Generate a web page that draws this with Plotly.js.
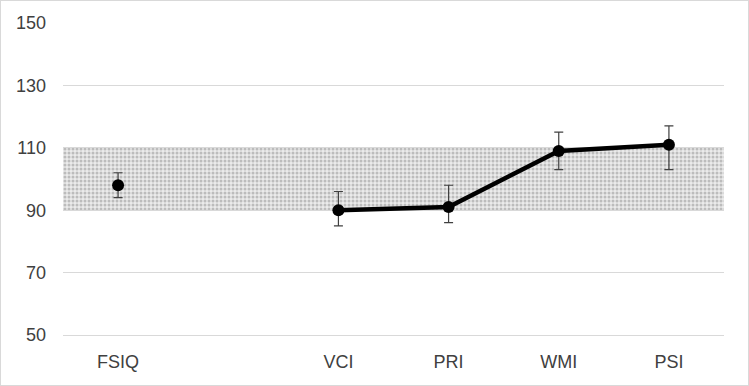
<!DOCTYPE html>
<html>
<head>
<meta charset="utf-8">
<script src="https://cdn.plot.ly/plotly-3.0.1.min.js"></script>
<style>
html,body{margin:0;padding:0;background:#fff;}
#wrap{position:relative;width:749px;height:386px;}
#chart{width:749px;height:386px;}
#frame{position:absolute;left:0;top:0;width:747px;height:384px;border:1px solid #d9d9d9;pointer-events:none;}
</style>
</head>
<body>
<div id="wrap"><div id="chart"></div><div id="frame"></div></div>
<script>
// Data
const categories = ['FSIQ', ' ', 'VCI', 'PRI', 'WMI', 'PSI'];
const scores = [98, null, 90, 91, 109, 111];
const upperCI = [102, null, 96, 98, 115, 117];
const lowerCI = [94, null, 85, 86, 103, 103];
const bandLow = 90;
const bandHigh = 110;
const yTicks = [50, 70, 90, 110, 130, 150];

const errPlus = scores.map((v, i) => v === null ? null : upperCI[i] - v);
const errMinus = scores.map((v, i) => v === null ? null : v - lowerCI[i]);

const band = {
  type: 'bar',
  x: categories,
  y: categories.map(() => bandHigh - bandLow),
  base: categories.map(() => bandLow),
  width: 1,
  marker: {
    color: '#e6e6e6',
    line: {width: 0},
    pattern: {shape: '.', bgcolor: '#ebebeb', fgcolor: '#bcbcbc', size: 4, solidity: 0.45, fillmode: 'replace'}
  },
  hoverinfo: 'skip',
  showlegend: false
};

const line = {
  type: 'scatter',
  mode: 'lines+markers',
  x: categories,
  y: scores,
  connectgaps: false,
  line: {color: '#000000', width: 4.5},
  marker: {color: '#000000', size: 12, symbol: 'circle'},
  error_y: {
    type: 'data', symmetric: false,
    array: errPlus, arrayminus: errMinus,
    color: '#404040', thickness: 1.2, width: 4.5
  },
  showlegend: false
};

const tf = {family: '"Liberation Sans Narrow", "Liberation Sans", Arial, sans-serif', size: 18, color: '#404040'};

const layout = {
  width: 749, height: 386,
  margin: {l: 63, r: 25, t: 23, b: 51},
  paper_bgcolor: '#ffffff', plot_bgcolor: '#ffffff',
  bargap: 0,
  font: tf,
  xaxis: {
    type: 'category',
    categoryorder: 'array', categoryarray: categories,
    range: [-0.5, 5.5],
    showgrid: false, zeroline: false,
    showline: true, linecolor: '#d9d9d9', linewidth: 1,
    ticks: '', ticklabelstandoff: 10,
    tickfont: tf
  },
  yaxis: {
    range: [50, 150],
    tickvals: yTicks,
    showgrid: true, gridcolor: '#d9d9d9', gridwidth: 1,
    zeroline: false, showline: false,
    ticks: '', ticklabelstandoff: 16,
    tickfont: tf
  }
};

Plotly.newPlot('chart', [band, line], layout, {displayModeBar: false, staticPlot: true});
</script>
</body>
</html>
